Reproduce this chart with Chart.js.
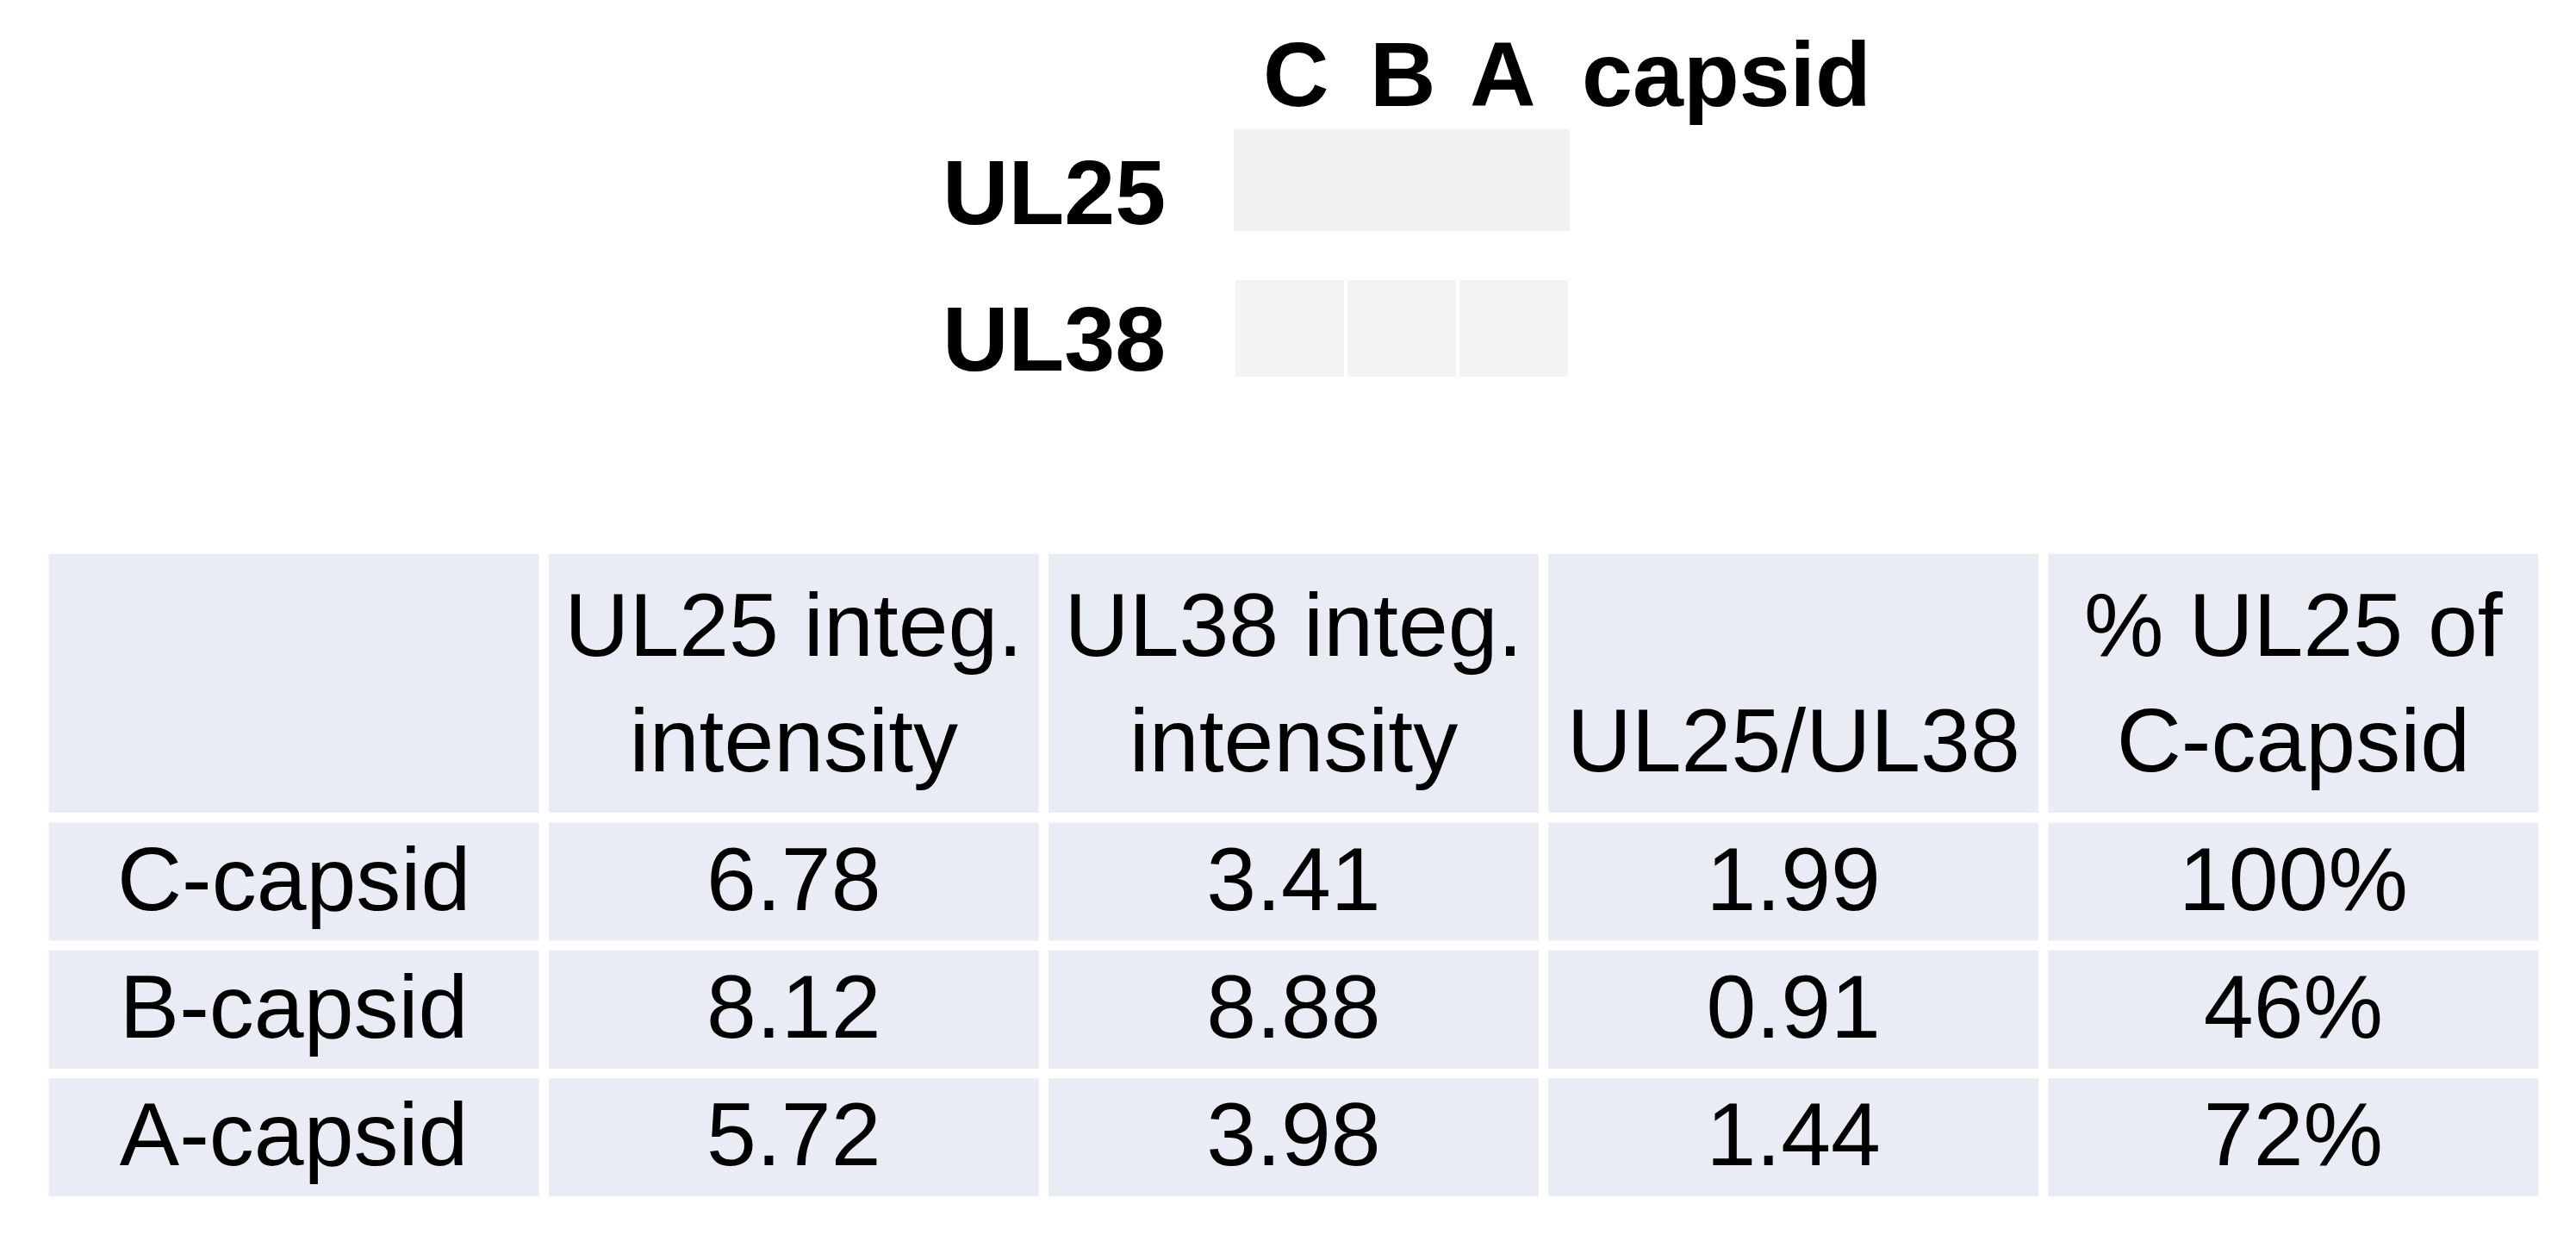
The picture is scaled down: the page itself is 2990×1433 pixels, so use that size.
<!DOCTYPE html>
<html>
<head>
<meta charset="utf-8">
<script src="https://cdn.jsdelivr.net/npm/chart.js@4"></script>
<style>
  html, body { margin: 0; padding: 0; background: #fff; }
  body { width: 2990px; height: 1433px; position: relative; overflow: hidden;
         font-family: "Liberation Sans Narrow", "Liberation Sans", sans-serif; }
  .lbl { position: absolute; font-weight: bold; font-size: 106px; line-height: 1; color: #000; }
  #blot-wrap { position: absolute; left: 1432px; top: 140px; width: 390px; height: 300px; }
  #table-wrap { position: absolute; left: 51px; top: 637px; width: 2901px; height: 757px; }
</style>
</head>
<body>
<div class="lbl" style="left:1466px;top:33px">C</div>
<div class="lbl" style="left:1590px;top:33px">B</div>
<div class="lbl" style="left:1706px;top:33px">A</div>
<div class="lbl" style="left:1836px;top:33px">capsid</div>
<div class="lbl" style="left:1094px;top:170px">UL25</div>
<div class="lbl" style="left:1094px;top:340px">UL38</div>

<div id="blot-wrap"><canvas id="chart-blot"></canvas></div>
<div id="table-wrap"><canvas id="chart-table"></canvas></div>

<script>
// data
const lanes = ['C', 'B', 'A']
const ul25Band = [0.92, 0.62, 0.9]   // darkness
const ul38Band = [0.55, 0.57, 0.6]

const headerLines = [
    ['', ''],
    ['UL25 integ.', 'intensity'],
    ['UL38 integ.', 'intensity'],
    ['', 'UL25/UL38'],
    ['% UL25 of', 'C-capsid'],
]
const capsids = ['C-capsid', 'B-capsid', 'A-capsid']
const ul25Intensity = [6.78, 8.12, 5.72]
const ul38Intensity = [3.41, 8.88, 3.98]
const ul25PerUl38 = [1.99, 0.91, 1.44]
const pctOfC = [100, 46, 72]

// blot
const grey = (d) => {
    const v = Math.round(255 * (1 - d))
    return `rgb(${v},${v},${v})`
}
const boxUl25 = [10, 128]
const boxUl38 = [185, 297]
const bandUl25 = [66, 80]
const bandUl38 = [236, 248]

new Chart(document.getElementById('chart-blot').getContext('2d'), {
    type: 'bar',
    data: {
        labels: lanes,
        datasets: [
            { data: lanes.map(() => boxUl25), backgroundColor: '#f1f1f1', grouped: false,
              barPercentage: 1, categoryPercentage: 1 },
            { data: lanes.map(() => boxUl38), backgroundColor: '#f3f3f3', grouped: false,
              barPercentage: 1, categoryPercentage: 0.97 },
            { data: lanes.map(() => bandUl25), backgroundColor: ul25Band.map(grey), grouped: false,
              barPercentage: 0.72, categoryPercentage: 1, borderRadius: 6, blur: true },
            { data: lanes.map(() => bandUl38), backgroundColor: ul38Band.map(grey), grouped: false,
              barPercentage: 0.72, categoryPercentage: 1, borderRadius: 6, blur: true },
        ],
    },
    options: {
        responsive: true,
        maintainAspectRatio: false,
        animation: false,
        layout: { padding: 0 },
        scales: {
            x: { display: false },
            y: { display: false, min: 0, max: 300, reverse: true },
        },
        plugins: { legend: { display: false }, tooltip: { enabled: false } },
    },
    plugins: [
        {
            beforeDatasetDraw: function (chart, args) {
                if (chart.data.datasets[args.index].blur) {
                    chart.ctx.save()
                    chart.ctx.filter = 'blur(2.5px)'
                }
            },
            afterDatasetDraw: function (chart, args) {
                if (chart.data.datasets[args.index].blur) chart.ctx.restore()
            },
        },
    ],
})

// table
const rowSpans = [[0, 2.1], [2.1, 3.1], [3.1, 4.1], [4.1, 5.1]]
const cellText = [
    headerLines,
    ...capsids.map((c, i) => [
        c,
        ul25Intensity[i].toFixed(2),
        ul38Intensity[i].toFixed(2),
        ul25PerUl38[i].toFixed(2),
        pctOfC[i] + '%',
    ]),
]

new Chart(document.getElementById('chart-table').getContext('2d'), {
    type: 'bar',
    data: {
        labels: headerLines.map((l) => l.join(' ')),
        datasets: rowSpans.map((span) => ({
            data: headerLines.map(() => span),
            backgroundColor: '#e9ebf5',
            borderColor: '#ffffff',
            borderWidth: 6,
            borderSkipped: false,
            grouped: false,
            barPercentage: 1,
            categoryPercentage: 1,
        })),
    },
    options: {
        responsive: true,
        maintainAspectRatio: false,
        animation: false,
        layout: { padding: 0 },
        scales: {
            x: { display: false },
            y: { display: false, min: 0, max: 5.1, reverse: true },
        },
        plugins: { legend: { display: false }, tooltip: { enabled: false } },
    },
    plugins: [
        {
            afterDatasetsDraw: function (chart) {
                const ctx = chart.ctx
                const yScale = chart.scales.y
                ctx.save()
                ctx.fillStyle = '#000'
                ctx.textAlign = 'center'
                ctx.textBaseline = 'middle'
                ctx.font = '104px "Liberation Sans Narrow", "Liberation Sans", sans-serif'
                chart.data.datasets.forEach((ds, r) => {
                    chart.getDatasetMeta(r).data.forEach((bar, c) => {
                        const t = cellText[r][c]
                        const yc = (yScale.getPixelForValue(rowSpans[r][0]) + yScale.getPixelForValue(rowSpans[r][1])) / 2
                        if (Array.isArray(t)) {
                            ctx.fillText(t[0], bar.x, yc - 61)
                            ctx.fillText(t[1], bar.x, yc + 73)
                        } else {
                            ctx.fillText(t, bar.x, yc + 4)
                        }
                    })
                })
                ctx.restore()
            },
        },
    ],
})
</script>
</body>
</html>
